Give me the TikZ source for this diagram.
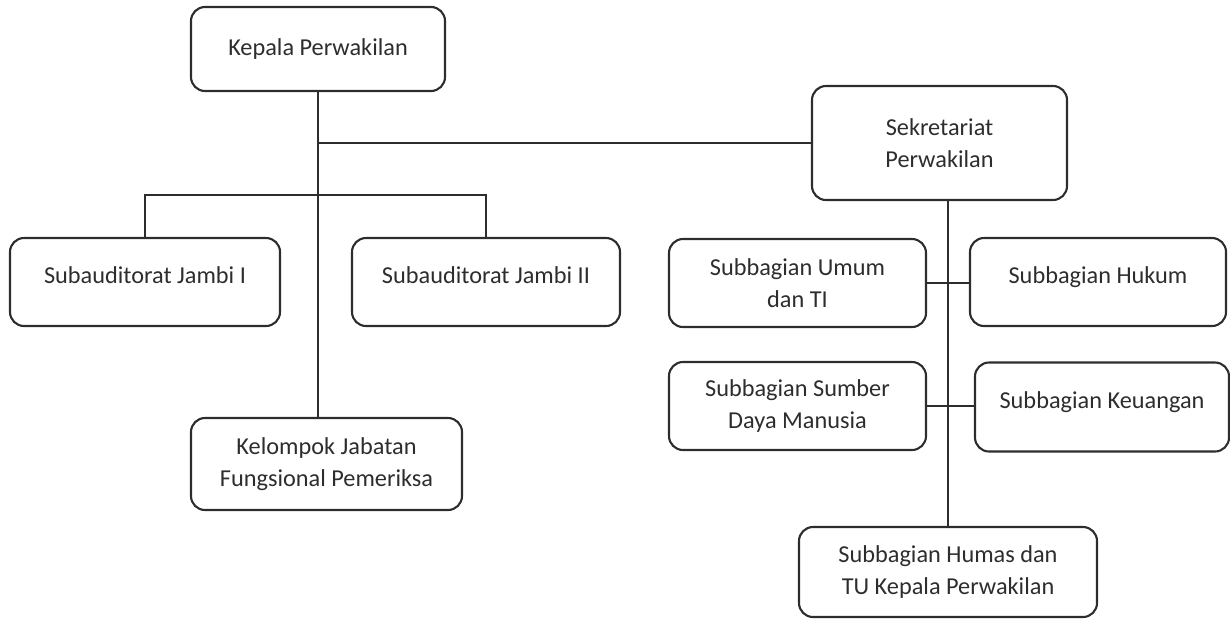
\documentclass[tikz,border=0pt]{standalone}
\usepackage{fontspec}
\setmainfont{Carlito}
\usetikzlibrary{positioning}
\tikzstyle{chart} = [x = 1pt, y = -1pt]
\definecolor{lineColor}{RGB}{45,45,45}
\definecolor{textColor}{RGB}{45,45,45}
\tikzstyle{unitBox} = [draw=lineColor, line width=2.1pt, rounded corners=14pt, align=center, text=textColor, font=\fontsize{24.3}{31.5}\selectfont, inner sep=0pt, minimum height=88pt]
\tikzstyle{raisedText} = [text height=17pt, text depth=15pt]
\tikzstyle{link} = [draw=lineColor, line width=1.9pt]

\begin{document}
\begin{tikzpicture}[chart]
          \useasboundingbox (0,0) rectangle (1230,619);
          % left branch
          \node [unitBox, minimum width=254pt, minimum height=84pt] (kepala) at (318,49) {Kepala Perwakilan};
          \node [unitBox, raisedText, minimum width=270pt] (subA) at (145,282) {Subauditorat Jambi I};
          \node [unitBox, raisedText, minimum width=268pt] (subB) at (486,282) {Subauditorat Jambi II};
          \node [unitBox, minimum width=271pt, minimum height=92pt] (kelompok) at (326.5,464) {Kelompok Jabatan\\Fungsional Pemeriksa};

          % right branch
          \node [unitBox, minimum width=255pt, minimum height=114pt] (sekretariat) at (939.5,143) {Sekretariat\\Perwakilan};
          \node [unitBox, minimum width=257pt] (umum) at (797.5,283) {Subbagian Umum\\dan TI};
          \node [unitBox, raisedText, minimum width=256pt] (hukum) at (1098,282) {Subbagian Hukum};
          \node [unitBox, minimum width=257pt] (sumber) at (797.5,406) {Subbagian Sumber\\Daya Manusia};
          \node [unitBox, raisedText, minimum width=254pt, minimum height=89pt] (keuangan) at (1102,407) {Subbagian Keuangan};
          \node [unitBox, minimum width=298pt, minimum height=90pt] (humas) at (948,572) {Subbagian Humas dan\\TU Kepala Perwakilan};

          % connectors
          \coordinate (fork) at (318,195);
          \draw [link] (kepala.south) -- (kepala.south |- kelompok.north);
          \draw [link] (kepala.south |- sekretariat.west) -- (sekretariat.west);
          \draw [link] (subA.north) |- (fork) -| (subB.north);
          \draw [link] (humas.north) -- (humas.north |- sekretariat.south);
          \draw [link] (umum.east) -- (umum.east -| hukum.west);
          \draw [link] (sumber.east) -- (sumber.east -| keuangan.west);
        \end{tikzpicture}
\end{document}
